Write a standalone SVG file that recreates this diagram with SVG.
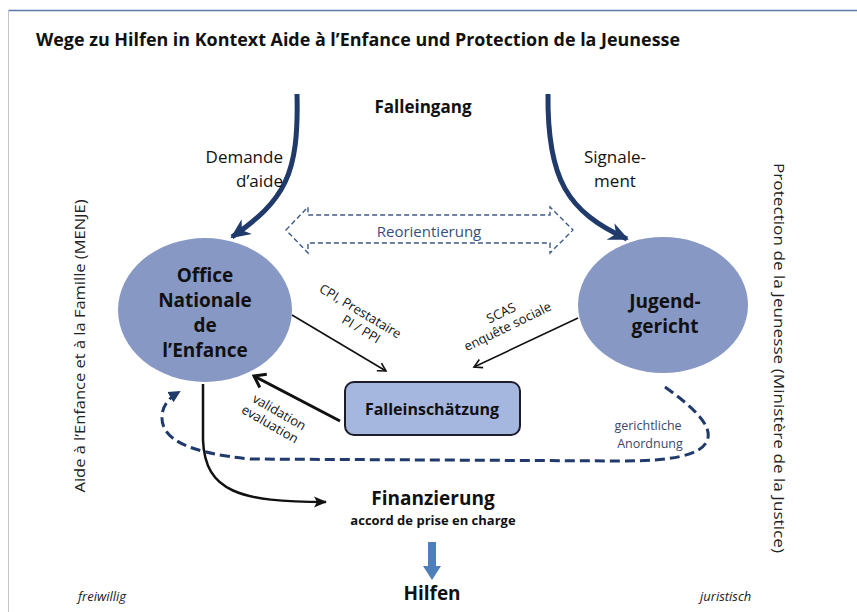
<svg xmlns="http://www.w3.org/2000/svg" width="857" height="612" viewBox="0 0 857 612">
<style>
text{font-family:"Open Sans","Liberation Sans",sans-serif;fill:#111}
.b{font-weight:bold}
.node{fill:#8798c4}
.lbl{font-size:13px}
.side{font-size:14.5px;fill:#222}
.it{font-style:italic;font-size:13px;fill:#222}
</style>
<defs>
<marker id="navyHead" markerUnits="userSpaceOnUse" markerWidth="22" markerHeight="20" refX="18" refY="10" orient="auto">
<path d="M0,1 L20,10 L0,19 L6,10 Z" fill="#1f3a6b"/>
</marker>
<marker id="chev" markerUnits="userSpaceOnUse" markerWidth="12" markerHeight="12" refX="9" refY="6" orient="auto">
<path d="M1,1.5 L9,6 L1,10.5" fill="none" stroke="#111" stroke-width="1.6"/>
</marker>
<marker id="chevThick" markerUnits="userSpaceOnUse" markerWidth="16" markerHeight="18" refX="12" refY="9" orient="auto">
<path d="M1.5,1.5 L12,9 L1.5,16.5" fill="none" stroke="#111" stroke-width="3"/>
</marker>
<marker id="stealth" markerUnits="userSpaceOnUse" markerWidth="14" markerHeight="12" refX="12" refY="6" orient="auto">
<path d="M0,0.5 L13,6 L0,11.5 L3,6 Z" fill="#111"/>
</marker>
<marker id="dashHead" markerUnits="userSpaceOnUse" markerWidth="14" markerHeight="14" refX="10" refY="7" orient="auto">
<path d="M0,1 L12,7 L0,13 Z" fill="#1f3a6b"/>
</marker>
</defs>
<rect width="857" height="612" fill="#fff"/>
<line x1="8" y1="10.5" x2="857" y2="10.5" stroke="#5a7aa8" stroke-width="1.5"/>
<line x1="8.5" y1="10" x2="8.5" y2="612" stroke="#c4c4cc" stroke-width="1"/>

<g id="title"><text class="b" x="36" y="46" font-size="17" textLength="644" lengthAdjust="spacingAndGlyphs">Wege zu Hilfen in Kontext Aide à l’Enfance und Protection de la Jeunesse</text></g>

<g id="side-left"><text class="side" transform="translate(85,346) rotate(-90)" text-anchor="middle" textLength="293" lengthAdjust="spacingAndGlyphs">Aide à l’Enfance et à la Famille (MENJE)</text></g>
<g id="side-right"><text class="side" transform="translate(774,358) rotate(90)" text-anchor="middle" textLength="390" lengthAdjust="spacingAndGlyphs">Protection de la Jeunesse (Ministère de la Justice)</text></g>

<g id="falleingang"><text class="b" x="423" y="113" font-size="17" text-anchor="middle">Falleingang</text></g>

<g id="connectors">
<path d="M297,94 C299,175 285,200 232,237" fill="none" stroke="#1f3a6b" stroke-width="5" marker-end="url(#navyHead)"/>
<path d="M548,94 C547,180 568,212 627,239" fill="none" stroke="#1f3a6b" stroke-width="5" marker-end="url(#navyHead)"/>
<text x="283" y="163" font-size="17" text-anchor="end">Demande</text>
<text x="283" y="187" font-size="17" text-anchor="end">d’aide</text>
<text x="615" y="163" font-size="17" text-anchor="middle">Signale-</text>
<text x="615" y="187" font-size="17" text-anchor="middle">ment</text>

<path d="M286,230 L308,207 L308,215 L550,215 L550,207 L573,230 L550,253 L550,243 L308,243 L308,253 Z" fill="none" stroke="#3d5a8a" stroke-width="1.4" stroke-dasharray="5,3"/>
<text x="429" y="237" font-size="15" text-anchor="middle" style="fill:#34507e">Reorientierung</text>

<line x1="292" y1="315" x2="386" y2="371" stroke="#111" stroke-width="1.6" marker-end="url(#chev)"/>
<g transform="translate(358,315) rotate(31)">
<text class="lbl" text-anchor="middle" x="0" y="0">CPI, Prestataire</text>
<text class="lbl" text-anchor="middle" x="10" y="15">PI / PPI</text>
</g>

<line x1="578" y1="318" x2="474" y2="367" stroke="#111" stroke-width="1.6" marker-end="url(#chev)"/>
<g transform="translate(503,317) rotate(-26)">
<text class="lbl" text-anchor="middle" x="0" y="0">SCAS</text>
<text class="lbl" text-anchor="middle" x="0" y="15">enquête sociale</text>
</g>

<line x1="340" y1="421" x2="254" y2="376" stroke="#111" stroke-width="3" marker-end="url(#chevThick)"/>
<g transform="translate(277,416) rotate(30)">
<text class="lbl" text-anchor="middle" x="0" y="0">validation</text>
<text class="lbl" text-anchor="middle" x="-2" y="15">evaluation</text>
</g>

<path d="M203,384 L203,440 C205,492 240,502 326,502" fill="none" stroke="#111" stroke-width="2.5" marker-end="url(#stealth)"/>

<path d="M665,387 C690,405 714,425 707,441 C700,456 670,461 620,461 L250,459 C190,453 160,440 162,415 C163,405 169,398 179,392" fill="none" stroke="#1f3a6b" stroke-width="3" stroke-dasharray="10,5" marker-end="url(#dashHead)"/>
<text x="648" y="430" font-size="12.5" text-anchor="middle" style="fill:#3a4868">gerichtliche</text>
<text x="650" y="448" font-size="12.5" text-anchor="middle" style="fill:#3a4868">Anordnung</text>

<polygon points="428,542 436,542 436,566 441,566 432,580 423,566 428,566" fill="#4f7fbb"/>
</g>

<g id="office">
<ellipse class="node" cx="205" cy="310" rx="87" ry="72"/>
<text class="b" font-size="19" text-anchor="middle" x="205" y="282">Office</text>
<text class="b" font-size="19" text-anchor="middle" x="205" y="307">Nationale</text>
<text class="b" font-size="19" text-anchor="middle" x="205" y="332">de</text>
<text class="b" font-size="19" text-anchor="middle" x="205" y="357">l’Enfance</text>
</g>

<g id="jugendgericht">
<ellipse class="node" cx="663" cy="305" rx="85" ry="68"/>
<text class="b" font-size="19" text-anchor="middle" x="665" y="308">Jugend-</text>
<text class="b" font-size="19" text-anchor="middle" x="665" y="333">gericht</text>
</g>

<g id="falleinschaetzung">
<rect x="345" y="382" width="175" height="53" rx="9" fill="#a5b6df" stroke="#1c1c2a" stroke-width="2"/>
<text class="b" font-size="16" text-anchor="middle" x="432" y="415">Falleinschätzung</text>
</g>

<g id="finanzierung">
<text class="b" font-size="19" text-anchor="middle" x="433" y="505">Finanzierung</text>
<text class="b" font-size="13" text-anchor="middle" x="433" y="525">accord de prise en charge</text>
</g>

<g id="hilfen"><text class="b" font-size="19" text-anchor="middle" x="432" y="600">Hilfen</text></g>

<g id="footer">
<text class="it" x="78" y="601">freiwillig</text>
<text class="it" x="700" y="601">juristisch</text>
</g>
</svg>
